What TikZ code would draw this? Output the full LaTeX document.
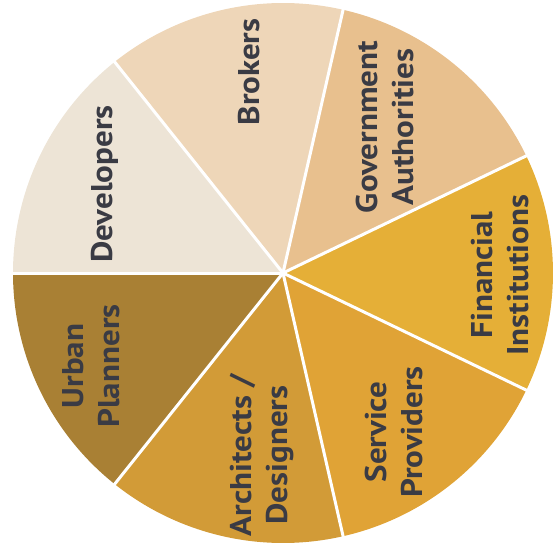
\documentclass[tikz,border=0pt]{standalone}
\usepackage{fontspec}
\setmainfont{PT Sans}[FakeStretch=1.1]
\usepackage{tikz}
\usetikzlibrary{calc}
\definecolor{cDev}{HTML}{EDE4D6}
\definecolor{cBrk}{HTML}{EED6B8}
\definecolor{cGov}{HTML}{E8C08E}
\definecolor{cFin}{HTML}{E5AF37}
\definecolor{cSrv}{HTML}{E0A336}
\definecolor{cArc}{HTML}{D29B37}
\definecolor{cUrb}{HTML}{A98034}
\definecolor{txtgray}{HTML}{3A3B44}
\tikzset{
    lbl/.style={rotate=90, align=center, inner sep=0pt, text=txtgray,
        font=\bfseries\fontsize{30}{36}\selectfont},
    gap/.style={draw=white, line width=3pt}}

\begin{document}
\begin{tikzpicture}[x=1pt,y=1pt]
\useasboundingbox (-283,-279) rectangle (274,273);
\coordinate (O) at (0,0);
%slices
\fill[cDev] (O) -- (180:270) arc (180:128.57:270) -- cycle;
\fill[cBrk] (O) -- (128.57:270) arc (128.57:77.14:270) -- cycle;
\fill[cGov] (O) -- (77.14:270) arc (77.14:25.71:270) -- cycle;
\fill[cFin] (O) -- (25.71:270) arc (25.71:-25.71:270) -- cycle;
\fill[cSrv] (O) -- (-25.71:270) arc (-25.71:-77.14:270) -- cycle;
\fill[cArc] (O) -- (-77.14:270) arc (-77.14:-128.57:270) -- cycle;
\fill[cUrb] (O) -- (-128.57:270) arc (-128.57:-180:270) -- cycle;
%rim points
\coordinate (R1) at (180:272);
\coordinate (R2) at (128.57:272);
\coordinate (R3) at (77.14:272);
\coordinate (R4) at (25.71:272);
\coordinate (R5) at (-25.71:272);
\coordinate (R6) at (-77.14:272);
\coordinate (R7) at (-128.57:272);
\draw[gap] (O) -- (R1);
\draw[gap] (O) -- (R2);
\draw[gap] (O) -- (R3);
\draw[gap] (O) -- (R4);
\draw[gap] (O) -- (R5);
\draw[gap] (O) -- (R6);
\draw[gap] (O) -- (R7);
%labels
\node[lbl] (dev) at (-178,89) {Developers};
\node[lbl] (brk) at (-34,201) {Brokers};
\node[lbl] (gov) at (102,146) {Government\\Authorities};
\node[lbl] (fin) at (217,-2) {Financial\\Institutions};
\node[lbl] (srv) at (111,-159) {Service\\Providers};
\node[lbl] (arc) at (-21,-182) {Architects /\\Designers};
\node[lbl] (urb) at (-192,-93) {Urban\\Planners};
\end{tikzpicture}
\end{document}
